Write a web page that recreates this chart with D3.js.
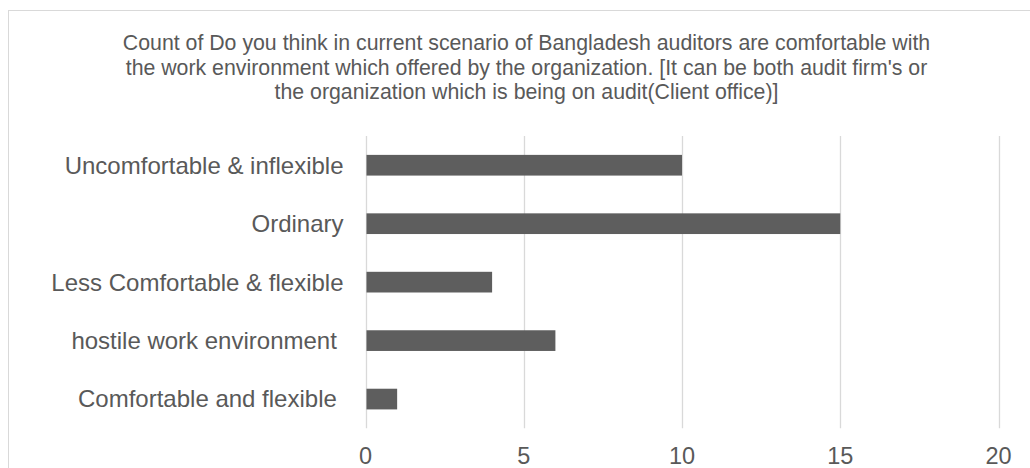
<!DOCTYPE html>
<html>
<head>
<meta charset="utf-8">
<script src="https://cdn.jsdelivr.net/npm/d3@7/dist/d3.min.js"></script>
<style>
  body { margin: 0; background: #fff; }
  svg { display: block; font-family: "Liberation Sans", Arial, sans-serif; }
</style>
</head>
<body>
<div id="chart"></div>
<script>
(function () {
    "use strict";

    // chart data, top to bottom as shown
    var categories = [
        "Uncomfortable & inflexible",
        "Ordinary",
        "Less Comfortable & flexible",
        "hostile work environment ",
        "Comfortable and flexible "
    ];
    var counts = [10, 15, 4, 6, 1];
    var tickValues = [0, 5, 10, 15, 20];
    var titleLines = [
        "Count of Do you think in current scenario of Bangladesh auditors are comfortable with",
        "the work environment which offered by the organization. [It can be both audit firm's or",
        "the organization which is being on audit(Client office)]"
    ];

    var width = 1030, height = 468;

    var svg = d3.select("#chart").append("svg")
        .attr("width", width)
        .attr("height", height);

    // chart area border (runs past the right and bottom edges)
    svg.append("rect")
        .attr("x", 8.5)
        .attr("y", 10.5)
        .attr("width", 1040)
        .attr("height", 480)
        .attr("fill", "#fff")
        .attr("stroke", "#d9d9d9");

    // title
    svg.append("g").selectAll("text")
        .data(titleLines)
        .enter().append("text")
        .attr("x", 526.5)
        .attr("y", function (d, i) { return 50 + i * 24.5; })
        .attr("text-anchor", "middle")
        .attr("fill", "#595959")
        .style("font-size", "21.3px")
        .text(function (d) { return d; });

    var x = d3.scaleLinear().domain([0, 20]).range([365.5, 998.5]);
    var y = d3.scaleBand().domain(categories).range([136, 428.3])
        .paddingInner(0.646).paddingOuter(0.323);

    // vertical gridlines
    svg.append("g").selectAll("line")
        .data(tickValues)
        .enter().append("line")
        .attr("x1", function (d) { return Math.round(x(d)) + 0.5; })
        .attr("x2", function (d) { return Math.round(x(d)) + 0.5; })
        .attr("y1", 136)
        .attr("y2", 428.3)
        .attr("stroke", "#d9d9d9")
        .attr("stroke-width", 1.3);

    // bars
    svg.append("g").selectAll("rect")
        .data(counts)
        .enter().append("rect")
        .attr("x", x(0) + 1)
        .attr("y", function (d, i) { return y(categories[i]); })
        .attr("width", function (d) { return x(d) - x(0) - 1; })
        .attr("height", y.bandwidth())
        .attr("fill", "#5e5e5e");

    // category labels
    svg.append("g").selectAll("text")
        .data(categories)
        .enter().append("text")
        .attr("x", 343.5)
        .attr("y", function (d) { return y(d) + y.bandwidth() / 2; })
        .attr("dy", "0.35em")
        .attr("text-anchor", "end")
        .attr("fill", "#595959")
        .style("font-size", "24px")
        .style("white-space", "pre")
        .text(function (d) { return d; });

    // x tick labels
    svg.append("g").selectAll("text")
        .data(tickValues)
        .enter().append("text")
        .attr("x", function (d) { return x(d); })
        .attr("y", 464)
        .attr("text-anchor", "middle")
        .attr("fill", "#595959")
        .style("font-size", "23.5px")
        .text(function (d) { return d; });
})();
</script>
</body>
</html>
